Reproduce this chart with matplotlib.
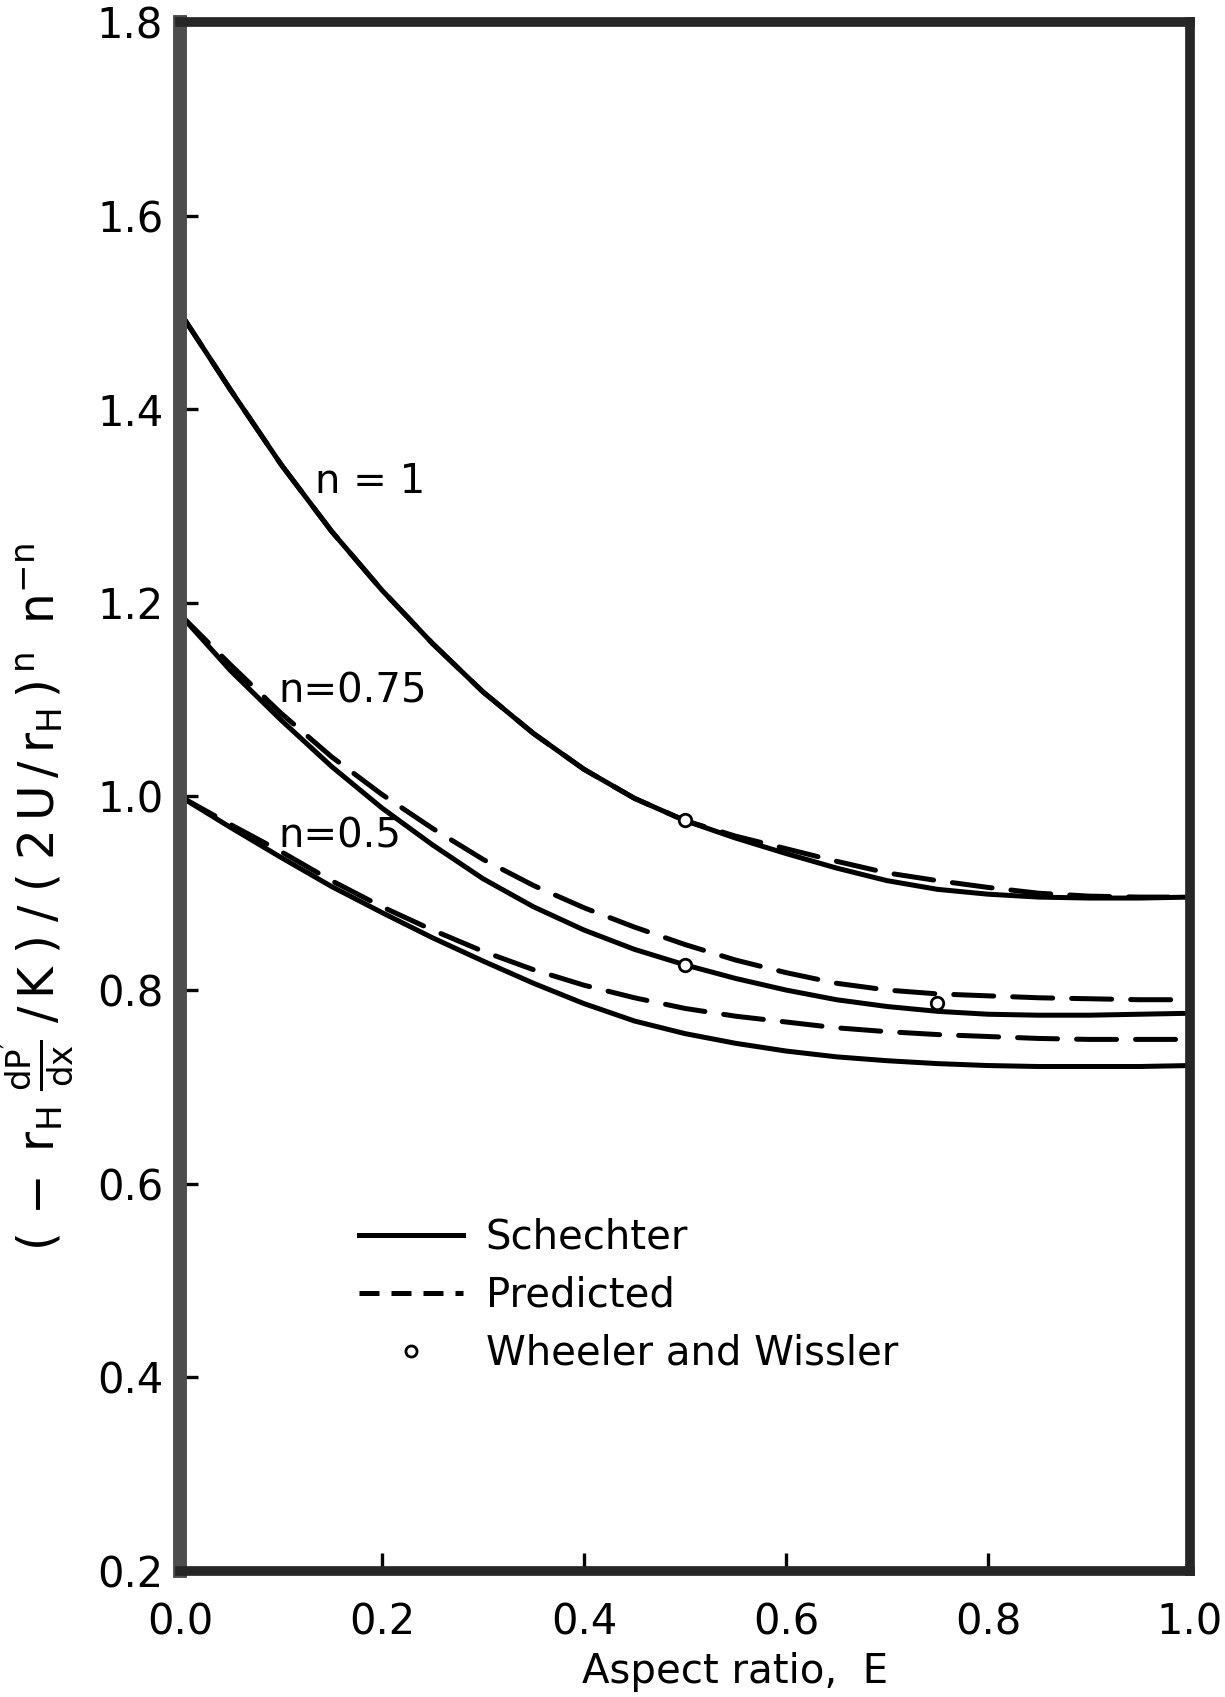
import numpy as np
import matplotlib
matplotlib.use("Agg")
import matplotlib.pyplot as plt
from matplotlib.lines import Line2D

plt.rcParams["font.family"] = ["DejaVu Sans"]
plt.rcParams["mathtext.fontset"] = "dejavusans"
plt.rcParams["mathtext.default"] = "regular"

# aspect ratio E, shared by every curve
aspect = [0.00, 0.05, 0.10, 0.15, 0.20, 0.25, 0.30, 0.35, 0.40, 0.45, 0.50,
          0.55, 0.60, 0.65, 0.70, 0.75, 0.80, 0.85, 0.90, 0.95, 1.00]

# Schechter solutions
schechter_n1 = [1.500, 1.420, 1.343, 1.274, 1.213, 1.158, 1.108, 1.065, 1.028, 0.998, 0.975,
                0.957, 0.941, 0.926, 0.913, 0.904, 0.899, 0.896, 0.895, 0.895, 0.896]
schechter_n075 = [1.188, 1.130, 1.079, 1.031, 0.988, 0.950, 0.915, 0.886, 0.862, 0.842, 0.826,
                  0.812, 0.800, 0.790, 0.783, 0.778, 0.775, 0.774, 0.774, 0.775, 0.776]
schechter_n05 = [1.000, 0.968, 0.937, 0.907, 0.880, 0.854, 0.830, 0.807, 0.786, 0.768, 0.755,
                 0.745, 0.737, 0.731, 0.727, 0.724, 0.722, 0.721, 0.721, 0.721, 0.722]

# predicted curves
predicted_n1 = [1.500, 1.420, 1.343, 1.274, 1.213, 1.158, 1.108, 1.065, 1.028, 0.998, 0.975,
                0.959, 0.946, 0.933, 0.921, 0.913, 0.906, 0.900, 0.897, 0.896, 0.896]
predicted_n075 = [1.188, 1.136, 1.086, 1.041, 1.002, 0.967, 0.935, 0.908, 0.885, 0.865, 0.847,
                  0.831, 0.818, 0.807, 0.800, 0.796, 0.794, 0.792, 0.791, 0.790, 0.790]
predicted_n05 = [1.000, 0.971, 0.943, 0.913, 0.886, 0.862, 0.840, 0.821, 0.805, 0.792, 0.781,
                 0.773, 0.767, 0.761, 0.757, 0.754, 0.752, 0.750, 0.749, 0.749, 0.749]

# Wheeler and Wissler points
ww_e = [0.5, 0.5, 0.75]
ww_val = [0.976, 0.826, 0.787]

curve_labels = ["n = 1", "n=0.75", "n=0.5"]
label_pos = [(0.134, 1.325), (0.097, 1.108), (0.097, 0.959)]

xticks = [0.0, 0.2, 0.4, 0.6, 0.8, 1.0]
yticks = [0.2, 0.4, 0.6, 0.8, 1.0, 1.2, 1.4, 1.6, 1.8]

fig = plt.figure(figsize=(12.25, 16.97), dpi=100)
ax = fig.add_axes([0.1469, 0.0743, 0.8245, 0.9128])

lw = 3.6
dash = (8, 3.8)
for vals in [schechter_n1, schechter_n075, schechter_n05]:
    ax.plot(aspect, vals, color="black", lw=lw, solid_capstyle="round",
            solid_joinstyle="round")
for vals in [predicted_n1, predicted_n075, predicted_n05]:
    ax.plot(aspect, vals, color="black", lw=lw, linestyle=(0, dash),
            dash_capstyle="round", dash_joinstyle="round")
ax.plot(ww_e, ww_val, linestyle="none", marker="o", ms=9, mfc="white",
        mec="black", mew=2)

for txt, (px, py) in zip(curve_labels, label_pos):
    ax.text(px, py, txt, fontsize=29, ha="left", va="center")

ax.set_xlim(0.0, 1.0)
ax.set_ylim(0.2, 1.8)
ax.set_xticks(xticks)
ax.set_xticklabels([f"{t:.1f}" for t in xticks])
ax.set_yticks(yticks)
ax.set_yticklabels([f"{t:.1f}" for t in yticks])
ax.tick_params(axis="both", direction="in", length=13, width=2.4, labelsize=30)
ax.tick_params(axis="x", pad=22)
ax.tick_params(axis="y", pad=12)

for side in ["top", "right", "bottom"]:
    ax.spines[side].set_linewidth(7)
    ax.spines[side].set_color("#262626")
ax.spines["left"].set_linewidth(10)
ax.spines["left"].set_color("#4d4d4d")

ax.set_xlabel("Aspect ratio,  E", fontsize=29, va="center")
ax.xaxis.set_label_coords(0.55, -0.065)
ax.set_ylabel(r"$(\,-\;r_H\;\frac{dP^{\prime}}{dx}\;/\,K\;)\;/\;(\;2\,U\,/\,r_H\,)^{\,n}\;\;n^{-n}$",
              fontsize=35)
ax.yaxis.set_label_coords(-0.103, 0.435)

handles = [
    Line2D([], [], color="black", lw=lw),
    Line2D([], [], color="black", lw=lw, linestyle=(0, (4, 2.4))),
    Line2D([], [], linestyle="none", marker="o", ms=8, mfc="white", mec="black", mew=2),
]
ax.legend(handles, ["Schechter", "Predicted", "Wheeler and Wissler"],
          loc="upper left", bbox_to_anchor=(0.177, 0.228), frameon=False,
          fontsize=29, handlelength=2.6, handletextpad=0.55, labelspacing=0.45,
          borderpad=0, borderaxespad=0)

fig.savefig("out.png", dpi=100, facecolor="white")
plt.close(fig)
